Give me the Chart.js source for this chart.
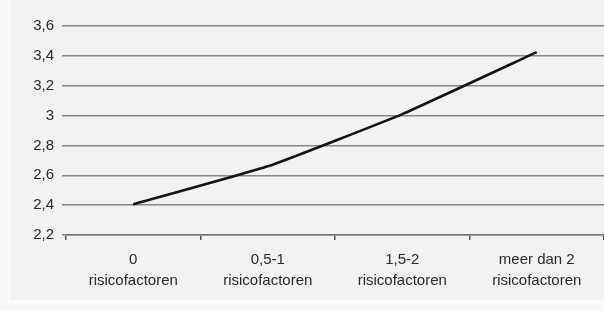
<!DOCTYPE html>
<html>
<head>
<meta charset="utf-8">
<script src="https://cdn.jsdelivr.net/npm/chart.js@4/dist/chart.umd.min.js"></script>
<style>
  html, body { margin: 0; padding: 0; background: #f9f9f9; }
  #wrap { width: 604px; height: 311px; position: relative; }
</style>
</head>
<body>
<div id="wrap"><canvas id="c" width="604" height="311"></canvas></div>
<script>
const categories = [
  ['0', 'risicofactoren'],
  ['0,5-1', 'risicofactoren'],
  ['1,5-2', 'risicofactoren'],
  ['meer dan 2', 'risicofactoren']
];
const values = [2.405, 2.66, 3.01, 3.425];
const yMin = 2.2;
const yMax = 3.6;
const yStep = 0.2;

const bgPlugin = {
  id: 'bg',
  beforeDraw(chart) {
    const ctx = chart.ctx;
    ctx.save();
    ctx.fillStyle = '#fafafa';
    ctx.fillRect(0, 0, chart.width, chart.height);
    ctx.fillStyle = '#f2f2f2';
    ctx.fillRect(10, 0, chart.width - 10, 300);
    ctx.restore();
  }
};

const fontFamily = '"Liberation Sans", Arial, Helvetica, sans-serif';

new Chart(document.getElementById('c'), {
  type: 'line',
  data: {
    labels: categories,
    datasets: [{
      data: values,
      borderColor: '#141414',
      borderWidth: 2.6,
      pointRadius: 0,
      tension: 0.12,
      fill: false
    }]
  },
  options: {
    responsive: false,
    animation: false,
    devicePixelRatio: 1,
    layout: { padding: { top: 26, right: 0, bottom: 0, left: 0 } },
    plugins: { legend: { display: false }, tooltip: { enabled: false } },
    scales: {
      x: {
        offset: true,
        grid: {
          offset: true,
          drawOnChartArea: false,
          drawTicks: true,
          tickLength: 5,
          color: '#555',
          lineWidth: 1.5
        },
        border: { display: true, color: '#767676', width: 1.5 },
        ticks: {
          color: '#2a2a2a',
          font: { family: fontFamily, size: 15, lineHeight: 1.4 },
          padding: 9,
          maxRotation: 0,
          autoSkip: false
        },
        afterFit(scale) { scale.height = 76; }
      },
      y: {
        min: yMin,
        max: yMax,
        grid: {
          color: '#878787',
          lineWidth: 1.5,
          drawTicks: true,
          tickLength: 4
        },
        border: { display: false },
        ticks: {
          stepSize: yStep,
          color: '#2a2a2a',
          padding: 8,
          font: { family: fontFamily, size: 15 },
          callback: (v) => String(Number(v.toFixed(1))).replace('.', ',')
        },
        afterFit(scale) { scale.width = 66; }
      }
    }
  },
  plugins: [bgPlugin]
});
</script>
</body>
</html>
